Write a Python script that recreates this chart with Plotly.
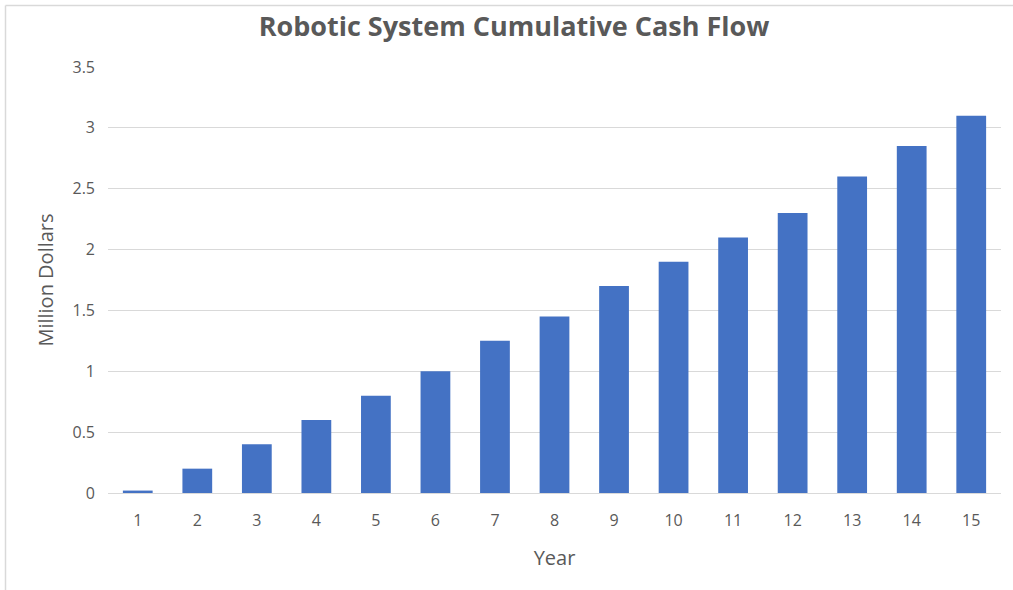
import plotly.graph_objects as go

years = [str(i) for i in range(1, 16)]
values = [0.02, 0.2, 0.4, 0.6, 0.8, 1.0, 1.25, 1.45, 1.7, 1.9, 2.1, 2.3, 2.6, 2.85, 3.1]
y_ticks = [0, 0.5, 1, 1.5, 2, 2.5, 3, 3.5]
y_tick_labels = ["0", "0.5", "1", "1.5", "2", "2.5", "3", "3.5"]

FONT = "Open Sans, Liberation Sans, sans-serif"
GRAY = "#595959"
BORDER = "#d9d9d9"

fig = go.Figure(
    go.Bar(
        x=years,
        y=values,
        marker=dict(color="#4472C4", line=dict(width=0)),
        hoverinfo="x+y",
    )
)

fig.update_layout(
    width=1013,
    height=590,
    margin=dict(l=108, r=12, t=67, b=97),
    paper_bgcolor="white",
    plot_bgcolor="white",
    bargap=0.5,
    showlegend=False,
    title=dict(
        text="<b>Robotic System Cumulative Cash Flow</b>",
        x=514 / 1013,
        xanchor="center",
        xref="container",
        y=1 - 27 / 590,
        yref="container",
        yanchor="middle",
        font=dict(family=FONT, size=27, color=GRAY),
    ),
    font=dict(family=FONT, color=GRAY),
)

fig.update_xaxes(
    type="category",
    showgrid=False,
    showline=True,
    linecolor=BORDER,
    linewidth=1,
    ticks="",
    ticklabelstandoff=13,
    tickfont=dict(size=16, color=GRAY),
    title=dict(text="Year", font=dict(size=20, color=GRAY), standoff=20),
)

fig.update_yaxes(
    range=[0, 3.5],
    tickvals=y_ticks,
    ticktext=y_tick_labels,
    showgrid=True,
    gridcolor=BORDER,
    gridwidth=1,
    zeroline=False,
    showline=False,
    ticks="",
    ticklabelstandoff=12,
    tickfont=dict(size=16, color=GRAY),
    title=dict(text="Million Dollars", font=dict(size=20, color=GRAY), standoff=13),
)

# outer chart border: left and top edges visible in reference
fig.add_shape(
    type="line", xref="paper", yref="paper",
    x0=-(108 - 5.5) / 893, x1=-(108 - 5.5) / 893, y0=-97 / 426, y1=1 + (67 - 5.5) / 426,
    line=dict(color=BORDER, width=1.5),
)
fig.add_shape(
    type="line", xref="paper", yref="paper",
    x0=-(108 - 5.5) / 893, x1=1 + 12 / 893, y0=1 + (67 - 5.5) / 426, y1=1 + (67 - 5.5) / 426,
    line=dict(color=BORDER, width=1.5),
)

fig.write_html(
    "out.html",
    config={"displayModeBar": False},
    post_script="document.body.style.margin='0px';",
)
